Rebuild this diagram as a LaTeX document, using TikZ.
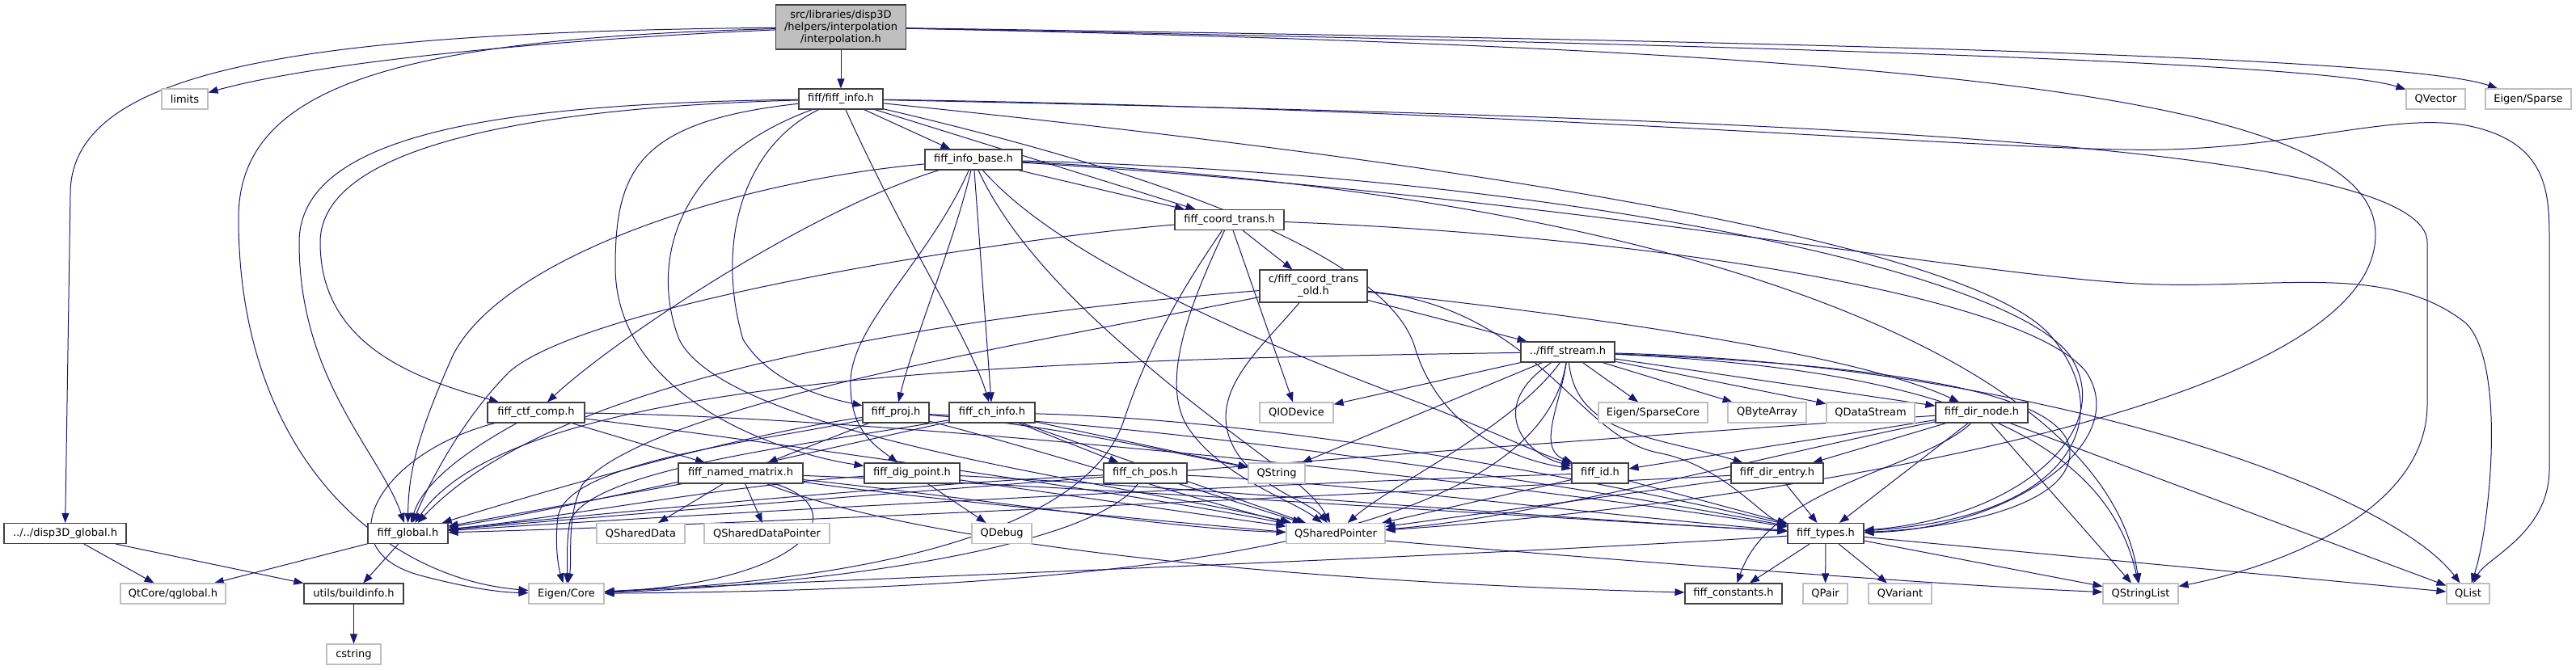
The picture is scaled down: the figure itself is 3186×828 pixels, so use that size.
\documentclass[tikz,border=0pt]{standalone}
\usepackage{fontspec}
\setmainfont{DejaVu Sans}
\usetikzlibrary{arrows.meta,backgrounds}
\definecolor{midnight}{HTML}{191970}
\definecolor{greyseventyfive}{HTML}{BFBFBF}
\definecolor{boxline}{HTML}{404040}
\newcommand\fsz{\fontsize{13}{15}\selectfont}
\begin{document}
\begin{tikzpicture}[x=1pt,y=-1pt,
  doc/.style={draw=boxline, line width=1.1pt, fill=white, inner sep=0pt, minimum height=25pt, font=\fsz, text=black},
  ext/.style={doc, draw=greyseventyfive},
  lnk/.style={draw=midnight, line width=1pt, -{Triangle[length=12pt,width=9pt]}, fill=none}]
\useasboundingbox (0,0) rectangle (3186,828);
% nodes
\node[doc, fill=greyseventyfive, minimum width=161pt, minimum height=55pt, align=center] (R) at (1040,33.5) {src/libraries/disp3D\\/helpers/interpolation\\/interpolation.h};
\node[ext, minimum width=57pt] (limits) at (228.5,122.5) {limits};
\node[doc, minimum width=104pt] (info) at (1040,122.5) {fiff/fiff\_info.h};
\node[ext, minimum width=73pt] (QVector) at (3012.5,122.5) {QVector};
\node[ext, minimum width=106pt] (EigenSparse) at (3127,122.5) {Eigen/Sparse};
\node[doc, minimum width=120pt] (infobase) at (1204,197.5) {fiff\_info\_base.h};
\node[doc, minimum width=135pt] (coordtrans) at (1520.5,272) {fiff\_coord\_trans.h};
\node[doc, minimum width=133pt, minimum height=40pt, align=center] (coordold) at (1624.5,354) {c/fiff\_coord\_trans\\\_old.h};
\node[doc, minimum width=116pt] (stream) at (1939,435.5) {../fiff\_stream.h};
\node[doc, minimum width=120pt] (ctfcomp) at (663,510.5) {fiff\_ctf\_comp.h};
\node[doc, minimum width=82pt] (proj) at (1108,510.5) {fiff\_proj.h};
\node[doc, minimum width=106pt] (chinfo) at (1227,510.5) {fiff\_ch\_info.h};
\node[ext, minimum width=91pt] (QIODevice) at (1603.5,510.5) {QIODevice};
\node[ext, minimum width=135pt] (EigenSparseCore) at (2044.5,510.5) {Eigen/SparseCore};
\node[ext, minimum width=97pt] (QByteArray) at (2185.5,510.5) {QByteArray};
\node[ext, minimum width=109pt] (QDataStream) at (2313.5,510.5) {QDataStream};
\node[doc, minimum width=114pt] (dirnode) at (2451,510.5) {fiff\_dir\_node.h};
\node[doc, minimum width=154pt] (namedmatrix) at (916,585.5) {fiff\_named\_matrix.h};
\node[doc, minimum width=118pt] (digpoint) at (1128,585.5) {fiff\_dig\_point.h};
\node[doc, minimum width=103pt] (chpos) at (1416.5,585.5) {fiff\_ch\_pos.h};
\node[ext, minimum width=70pt] (QString) at (1579,585.5) {QString};
\node[doc, minimum width=70pt] (fiffid) at (1979,585.5) {fiff\_id.h};
\node[doc, minimum width=114pt] (direntry) at (2198,585.5) {fiff\_dir\_entry.h};
\node[doc, minimum width=151pt] (disp3D) at (80.5,660) {../../disp3D\_global.h};
\node[doc, minimum width=99pt] (global) at (504.5,660) {fiff\_global.h};
\node[ext, minimum width=109pt] (QSharedData) at (792.5,660) {QSharedData};
\node[ext, minimum width=155pt] (QSharedDataPointer) at (948.5,660) {QSharedDataPointer};
\node[ext, minimum width=74pt] (QDebug) at (1239,660) {QDebug};
\node[ext, minimum width=122pt] (QSharedPointer) at (1652,660) {QSharedPointer};
\node[doc, minimum width=94pt] (types) at (2258,660) {fiff\_types.h};
\node[ext, minimum width=130pt] (qglobal) at (214,734.5) {QtCore/qglobal.h};
\node[doc, minimum width=123pt] (buildinfo) at (437.5,734.5) {utils/buildinfo.h};
\node[ext, minimum width=93pt] (EigenCore) at (700.5,734.5) {Eigen/Core};
\node[doc, minimum width=120pt] (constants) at (2144,734.5) {fiff\_constants.h};
\node[ext, minimum width=55pt] (QPair) at (2257.5,734.5) {QPair};
\node[ext, minimum width=78pt] (QVariant) at (2350,734.5) {QVariant};
\node[ext, minimum width=93pt] (QStringList) at (2647.5,734.5) {QStringList};
\node[ext, minimum width=53pt] (QList) at (3052.5,734.5) {QList};
\node[ext, minimum width=67pt] (cstring) at (437.5,809.5) {cstring};

\begin{scope}[on background layer]
\fill[white] (0,0) rectangle (3186,828);
% root
\draw[lnk] (R) -- (info);
\draw[lnk] (R) .. controls (700,48) and (400,75) .. (limits);
\draw[lnk] (R) .. controls (350,40) and (87,90) .. (87,240) -- (disp3D);
\draw[lnk] (R) .. controls (480,48) and (295,110) .. (295,270) .. controls (295,560) and (470,715) .. (EigenCore);
\draw[lnk] (R) .. controls (2300,58) and (2880,80) .. (QVector);
\draw[lnk] (R) .. controls (2300,52) and (2980,72) .. (EigenSparse);
\draw[lnk] (R) .. controls (2400,62) and (2938,120) .. (2938,290) .. controls (2938,520) and (2100,630) .. (QSharedPointer);
% info
\draw[lnk] (info) -- (infobase);
\draw[lnk] (info) -- (coordtrans);
\draw[lnk] (info) .. controls (620,128) and (370,165) .. (370,300) .. controls (370,470) and (470,560) .. (global);
\draw[lnk] (info) .. controls (660,133) and (396,180) .. (396,300) .. controls (396,430) and (520,470) .. (ctfcomp);
\draw[lnk] (info) .. controls (790,150) and (761,210) .. (761,330) .. controls (761,490) and (960,560) .. (digpoint);
\draw[lnk] (info) .. controls (920,180) and (884,300) .. (919,420) .. controls (950,470) and (1010,490) .. (proj);
\draw[lnk] (info) .. controls (830,200) and (805,330) .. (840,420) .. controls (900,540) and (1400,600) .. (QSharedPointer);
\draw[lnk] (info) .. controls (1120,300) and (1200,420) .. (chinfo);
\draw[lnk] (info) .. controls (1500,230) and (1720,330) .. (1750,430) .. controls (1780,530) and (1870,568) .. (fiffid);
\draw[lnk] (info) .. controls (1800,200) and (2450,300) .. (2540,420) .. controls (2620,520) and (2560,640) .. (types);
\draw[lnk] (info) .. controls (2100,145) and (3002,170) .. (3002,300) -- (3002,500) .. controls (3002,640) and (2800,705) .. (QStringList);
\draw[lnk] (info) .. controls (1900,135) and (2500,190) .. (2681,185) .. controls (2850,180) and (2960,140) .. (3050,155) .. controls (3153,175) and (3153,240) .. (3153,300) -- (3153,580) .. controls (3153,660) and (3075,690) .. (QList);
% info base
\draw[lnk] (infobase) -- (coordtrans);
\draw[lnk] (infobase) .. controls (1000,260) and (760,420) .. (ctfcomp);
\draw[lnk] (infobase) .. controls (900,225) and (620,320) .. (560,440) .. controls (520,530) and (505,580) .. (global);
\draw[lnk] (infobase) .. controls (1180,300) and (1130,420) .. (proj);
\draw[lnk] (infobase) .. controls (1150,320) and (1055,400) .. (1052,470) .. controls (1050,530) and (1080,550) .. (digpoint);
\draw[lnk] (infobase) -- (chinfo);
\draw[lnk] (infobase) .. controls (1260,320) and (1380,420) .. (1440,470) .. controls (1550,560) and (1620,600) .. (QSharedPointer);
\draw[lnk] (infobase) .. controls (1320,330) and (1600,440) .. (1760,500) .. controls (1850,535) and (1900,560) .. (fiffid);
\draw[lnk] (infobase) .. controls (1900,215) and (2480,330) .. (2560,440) .. controls (2620,530) and (2500,640) .. (types);
\draw[lnk] (infobase) .. controls (2000,235) and (2600,420) .. (QStringList);
\draw[lnk] (infobase) .. controls (1900,240) and (2400,335) .. (2627,350) .. controls (2800,362) and (2950,320) .. (3050,400) .. controls (3100,450) and (3080,650) .. (QList);
% coord trans
\draw[lnk] (coordtrans) -- (coordold);
\draw[lnk] (coordtrans) .. controls (1200,300) and (720,380) .. (630,460) .. controls (570,520) and (530,600) .. (global);
\draw[lnk] (coordtrans) .. controls (1460,360) and (1420,430) .. (1390,520) .. controls (1330,700) and (900,725) .. (EigenCore);
\draw[lnk] (coordtrans) .. controls (1480,360) and (1430,470) .. (1470,530) .. controls (1510,590) and (1600,620) .. (QSharedPointer);
\draw[lnk] (coordtrans) -- (QIODevice);
\draw[lnk] (coordtrans) .. controls (2000,290) and (2500,360) .. (2580,460) .. controls (2640,550) and (2480,655) .. (types);
% coord trans old
\draw[lnk] (coordold) -- (stream);
\draw[lnk] (coordold) .. controls (1250,385) and (700,450) .. (global);
\draw[lnk] (coordold) .. controls (1300,420) and (800,500) .. (720,600) .. controls (700,640) and (708,690) .. (EigenCore);
\draw[lnk] (coordold) .. controls (1560,430) and (1500,480) .. (1520,540) .. controls (1540,600) and (1620,620) .. (QSharedPointer);
\draw[lnk] (coordold) .. controls (1900,380) and (1950,540) .. (2050,560) .. controls (2130,575) and (2180,640) .. (types);
\draw[lnk] (coordold) .. controls (2000,395) and (2300,440) .. (dirnode);
% stream
\draw[lnk] (stream) -- (QIODevice);
\draw[lnk] (stream) -- (EigenSparseCore);
\draw[lnk] (stream) -- (QByteArray);
\draw[lnk] (stream) -- (QDataStream);
\draw[lnk] (stream) -- (dirnode);
\draw[lnk] (stream) .. controls (1950,540) and (2050,540) .. (direntry);
\draw[lnk] (stream) .. controls (1840,500) and (1880,560) .. (fiffid);
\draw[lnk] (stream) .. controls (1930,500) and (1900,555) .. (fiffid);
\draw[lnk] (stream) -- (QString);
\draw[lnk] (stream) .. controls (1300,445) and (640,460) .. (global);
\draw[lnk] (stream) .. controls (1870,530) and (1720,600) .. (QSharedPointer);
\draw[lnk] (stream) .. controls (2300,450) and (2560,480) .. (2560,560) .. controls (2560,630) and (2400,655) .. (types);
\draw[lnk] (stream) .. controls (2350,455) and (2600,520) .. (QStringList);
\draw[lnk] (stream) .. controls (2500,450) and (2950,600) .. (QList);
\draw[lnk] (stream) .. controls (1900,690) and (1300,730) .. (EigenCore);
% ctf comp
\draw[lnk] (ctfcomp) -- (namedmatrix);
\draw[lnk] (ctfcomp) .. controls (600,545) and (525,590) .. (global);
\draw[lnk] (ctfcomp) .. controls (470,560) and (400,680) .. (520,712) .. controls (580,728) and (620,733) .. (EigenCore);
\draw[lnk] (ctfcomp) .. controls (900,540) and (1400,610) .. (QSharedPointer);
\draw[lnk] (ctfcomp) .. controls (1100,515) and (1900,600) .. (types);
% proj
\draw[lnk] (proj) -- (namedmatrix);
\draw[lnk] (proj) .. controls (900,540) and (650,615) .. (global);
\draw[lnk] (proj) .. controls (1300,560) and (1500,625) .. (QSharedPointer);
\draw[lnk] (proj) .. controls (1500,530) and (2000,610) .. (types);
\draw[lnk] (proj) .. controls (1300,525) and (1450,560) .. (QString);
\draw[lnk] (proj) .. controls (950,545) and (700,570) .. (690,640) .. controls (686,670) and (690,700) .. (EigenCore);
% ch info
\draw[lnk] (chinfo) -- (chpos);
\draw[lnk] (chinfo) .. controls (1000,560) and (700,630) .. (global);
\draw[lnk] (chinfo) -- (QString);
\draw[lnk] (chinfo) -- (QSharedPointer);
\draw[lnk] (chinfo) .. controls (1600,520) and (2000,600) .. (types);
\draw[lnk] (chinfo) .. controls (1000,550) and (730,580) .. (705,645) .. controls (700,670) and (702,700) .. (EigenCore);
% named matrix
\draw[lnk] (namedmatrix) -- (QSharedData);
\draw[lnk] (namedmatrix) -- (QSharedDataPointer);
\draw[lnk] (namedmatrix) -- (global);
\draw[lnk] (namedmatrix) .. controls (1060,630) and (1000,720) .. (EigenCore);
\draw[lnk] (namedmatrix) .. controls (1200,615) and (1450,655) .. (QSharedPointer);
\draw[lnk] (namedmatrix) .. controls (1300,600) and (1900,640) .. (types);
\draw[lnk] (namedmatrix) .. controls (1300,640) and (2300,720) .. (QStringList);
\draw[lnk] (namedmatrix) .. controls (1100,660) and (1500,718) .. (constants);
% dig point
\draw[lnk] (digpoint) .. controls (900,600) and (700,640) .. (global);
\draw[lnk] (digpoint) -- (QDebug);
\draw[lnk] (digpoint) -- (QSharedPointer);
\draw[lnk] (digpoint) .. controls (1500,605) and (1900,640) .. (types);
% ch pos
\draw[lnk] (chpos) .. controls (1100,600) and (700,640) .. (global);
\draw[lnk] (chpos) -- (QSharedPointer);
\draw[lnk] (chpos) .. controls (1700,600) and (2000,640) .. (types);
\draw[lnk] (chpos) .. controls (1350,680) and (1000,725) .. (EigenCore);
% id
\draw[lnk] (fiffid) .. controls (1500,600) and (800,640) .. (global);
\draw[lnk] (fiffid) -- (QSharedPointer);
\draw[lnk] (fiffid) -- (types);
% dir entry
\draw[lnk] (direntry) .. controls (1700,610) and (900,650) .. (global);
\draw[lnk] (direntry) -- (QSharedPointer);
\draw[lnk] (direntry) -- (types);
% dir node
\draw[lnk] (dirnode) -- (fiffid);
\draw[lnk] (dirnode) -- (direntry);
\draw[lnk] (dirnode) .. controls (2000,540) and (900,625) .. (global);
\draw[lnk] (dirnode) .. controls (2200,560) and (1900,640) .. (QSharedPointer);
\draw[lnk] (dirnode) -- (types);
\draw[lnk] (dirnode) -- (QStringList);
\draw[lnk] (dirnode) -- (QList);
\draw[lnk] (dirnode) .. controls (2380,580) and (2190,600) .. (constants);
% types
\draw[lnk] (types) -- (constants);
\draw[lnk] (types) -- (QPair);
\draw[lnk] (types) -- (QVariant);
\draw[lnk] (types) -- (QStringList);
\draw[lnk] (types) -- (QList);
\draw[lnk] (types) .. controls (1800,690) and (1000,718) .. (EigenCore);
% globals
\draw[lnk] (global) -- (qglobal);
\draw[lnk] (global) -- (buildinfo);
\draw[lnk] (disp3D) -- (qglobal);
\draw[lnk] (disp3D) -- (buildinfo);
\draw[lnk] (buildinfo) -- (cstring);
\end{scope}
\end{tikzpicture}
\end{document}
